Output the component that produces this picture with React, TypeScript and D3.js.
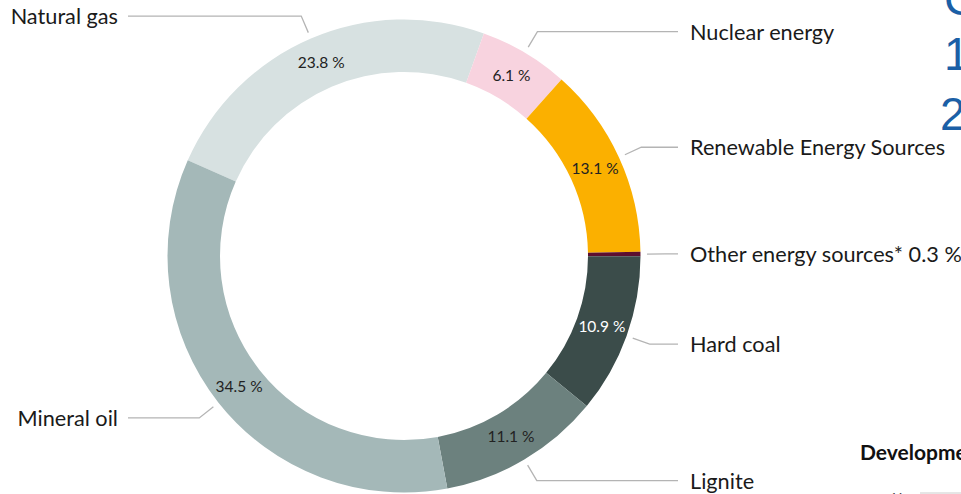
import React from "react";
import * as d3 from "d3";

const categories = [
  "Natural gas",
  "Nuclear energy",
  "Renewable Energy Sources",
  "Other energy sources*",
  "Hard coal",
  "Lignite",
  "Mineral oil",
];
const shares = [23.8, 6.1, 13.1, 0.3, 10.9, 11.1, 34.5];
const sliceColors = ["#d7e1e1", "#f8d3df", "#fbb000", "#5c0f2f", "#3b4c4a", "#6c817e", "#a4b8b8"];
const valueTextColors = ["#222", "#222", "#222", "#222", "#fff", "#222", "#222"];
const fragmentTexts = ["C", "1", "2"];
const sideHeading = "Development";
const sideTick = "14";

const W = 961;
const H = 494;
const cx = 404;
const cy = 256;
const outerR = 236.5;
const innerR = 184;
const FONT = "Lato, 'Open Sans', sans-serif";

export default function App() {
  const total = d3.sum(shares);
  // "Other energy sources" begins just above 3 o'clock
  const before = d3.sum(shares.slice(0, 3));
  const start = Math.PI / 2 - (1 * Math.PI) / 180 - (2 * Math.PI * before) / total;
  const pie = d3
    .pie<number>()
    .sort(null)
    .value((d) => d)
    .startAngle(start)
    .endAngle(start + 2 * Math.PI);
  const arcs = pie(shares);
  const arc = d3.arc<d3.PieArcDatum<number>>().innerRadius(innerR).outerRadius(outerR);
  const fmt = (v: number) => `${v.toFixed(1)} %`;

  const polar = (a: number, r: number) => [Math.sin(a) * r, -Math.cos(a) * r];

  return (
    <svg
      width={W}
      height={H}
      style={{ position: "absolute", left: 0, top: 0, background: "#fff" }}
      fontFamily={FONT}
    >
      <g transform={`translate(${cx},${cy})`}>
        {arcs.map((a, i) => (
          <path key={i} d={arc(a) || ""} fill={sliceColors[i]} />
        ))}
        {arcs.map((a, i) => {
          if (a.data < 1) return null;
          const [x, y] = arc.centroid(a);
          return (
            <text
              key={"v" + i}
              x={x}
              y={y}
              dy="0.35em"
              textAnchor="middle"
              fontSize={15.5}
              fill={valueTextColors[i]}
            >
              {fmt(a.data)}
            </text>
          );
        })}
        {arcs.map((a, i) => {
          const mid = (a.startAngle + a.endAngle) / 2;
          const [x0, y0] = polar(mid, 243);
          const [x1, y1] = polar(mid, 261);
          const right = Math.sin(mid) > 0;
          const xEnd = right ? 678 - cx : 128 - cx;
          const xText = right ? 690 - cx : 118 - cx;
          const label = a.data < 1 ? `${categories[i]} ${fmt(a.data)}` : categories[i];
          return (
            <g key={"l" + i}>
              <path
                d={`M${x0},${y0}L${x1},${y1}L${xEnd},${y1}`}
                fill="none"
                stroke="#b4b4b4"
                strokeWidth={1.3}
              />
              <text
                x={xText}
                y={y1}
                dy="0.36em"
                textAnchor={right ? "start" : "end"}
                fontSize={21.7}
                fill="#1a1a1a"
              >
                {label}
              </text>
            </g>
          );
        })}
      </g>
      <g fontFamily="'Liberation Sans', Arial, sans-serif" fill="#1b5fa6" fontSize={46}>
        <text x={944} y={15}>{fragmentTexts[0]}</text>
        <text x={944} y={70}>{fragmentTexts[1]}</text>
        <text x={940} y={130}>{fragmentTexts[2]}</text>
      </g>
      <text x={860} y={460} fontWeight={700} fontSize={21} fill="#111">
        {sideHeading}
      </text>
      <text x={891} y={500} fontSize={10} fill="#333">
        {sideTick}
      </text>
      <line x1={920} x2={961} y1={493} y2={493} stroke="#ccc" strokeWidth={1} />
    </svg>
  );
}
